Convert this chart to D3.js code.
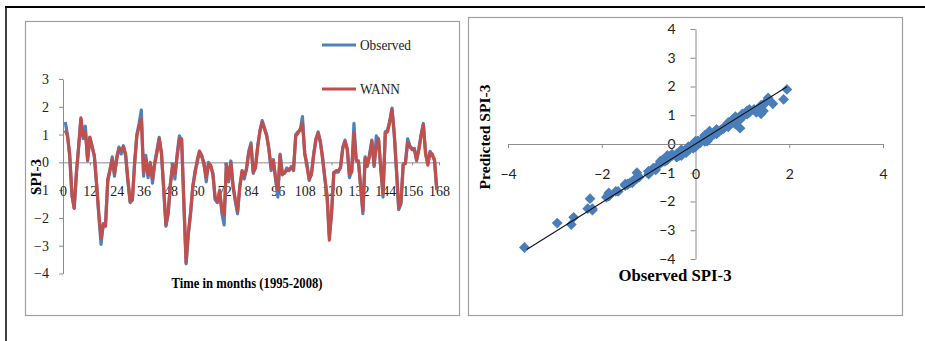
<!DOCTYPE html>
<html><head><meta charset="utf-8">
<script src="https://cdn.jsdelivr.net/npm/d3@7"></script>
<style>
html,body{margin:0;padding:0;background:#fff;}
svg{display:block;}
</style></head>
<body><svg id="c" width="925" height="341"></svg>
<script>
// ---------- DATA ----------
const observed = [
1.45, 1.0, 0.2, -1.2, -1.65, -0.4, 0.6, 1.55, 0.85, 1.3,
0.05, 0.9, 0.6, 0.2, -0.8, -1.9, -2.95, -2.2, -2.2, -0.7,
-0.3, 0.2, -0.5, 0.2, 0.55, 0.3, 0.6, 0.2, -0.7, -1.45,
-1.35, 0.0, 1.0, 1.4, 1.88, -0.5, 0.25, -0.55, -0.05, -0.75,
0.0, 0.45, 0.9, 0.3, -1.0, -2.3, -1.85, -0.8, -0.05, -0.6,
0.3, 0.95, 0.8, -1.5, -3.65, -2.6, -1.85, -0.9, -0.3, 0.0,
0.4, 0.2, 0.0, -0.7, 0.0, -0.15, -0.4, -1.35, -1.45, -1.0,
-1.85, -2.25, -0.05, -0.7, 0.05, -0.9, -1.4, -1.85, -0.85, -0.35,
-0.6, -0.2, 0.4, 0.7, -0.4, -0.15, 0.6, 1.1, 1.5, 1.25,
1.0, 0.5, -0.3, 0.1, -0.65, -1.25, 0.3, -0.4, -0.4, -0.2,
-0.3, -0.15, -0.3, 1.0, 1.1, 1.15, 1.65, 0.3, -0.05, -0.65,
-0.4, 0.3, 0.8, 1.1, 0.7, 0.2, -0.6, -1.25, -2.65, -1.85,
-0.35, -0.35, -0.35, -0.15, 0.55, 0.8, 0.45, -0.55, -0.3, 1.4,
0.05, 0.05, -0.9, -1.85, 0.2, -0.15, 0.3, 0.8, -0.15, 0.95,
0.8, -0.2, -1.25, 1.1, 1.15, 1.5, 1.95, 1.0, -0.3, -1.7,
-1.5, -0.05, -0.05, 0.85, 0.6, 0.45, 0.5, 0.05, 0.5, 1.0,
1.4, 0.3, -0.05, 0.4, 0.25, 0.1, -1.0
];
const wann = [
1.15, 0.95, 0.3, -1.15, -1.65, -0.35, 0.55, 1.6, 0.95, 1.1,
0.1, 0.9, 0.55, 0.25, -0.75, -1.85, -2.75, -2.25, -2.3, -0.6,
-0.25, 0.1, -0.4, 0.1, 0.5, 0.45, 0.55, 0.3, -0.6, -1.4,
-1.35, -0.05, 0.95, 1.3, 1.55, -0.35, 0.1, -0.45, 0.0, -0.6,
-0.05, 0.35, 0.85, 0.35, -0.95, -2.25, -1.8, -0.75, -0.1, -0.4,
0.2, 0.85, 0.85, -1.4, -3.6, -2.55, -1.8, -0.85, -0.4, 0.1,
0.4, 0.25, -0.1, -0.55, -0.05, -0.1, -0.45, -1.3, -1.4, -1.05,
-1.7, -1.9, -0.1, -0.6, 0.0, -0.85, -1.35, -1.75, -0.9, -0.3,
-0.5, -0.25, 0.35, 0.6, -0.35, -0.2, 0.55, 1.15, 1.45, 1.2,
0.95, 0.45, -0.2, 0.05, -0.55, -1.0, 0.25, -0.45, -0.35, -0.3,
-0.25, -0.2, -0.25, 0.95, 1.05, 1.2, 1.4, 0.35, -0.15, -0.6,
-0.45, 0.25, 0.85, 1.05, 0.75, 0.1, -0.55, -1.2, -2.8, -1.8,
-0.4, -0.3, -0.3, -0.2, 0.5, 0.75, 0.5, -0.45, -0.35, 1.05,
0.1, 0.0, -0.85, -1.75, 0.15, -0.1, 0.25, 0.75, -0.1, 0.55,
0.85, -0.25, -1.15, 1.05, 1.1, 1.45, 1.9, 1.05, -0.25, -1.65,
-1.45, -0.1, 0.0, 0.7, 0.55, 0.5, 0.45, 0.1, 0.45, 0.95,
1.35, 0.35, -0.1, 0.35, 0.3, 0.05, -0.95
];
const monthTicks = [0,12,24,36,48,60,72,84,96,108,120,132,144,156,168];
const spiTicksLeft = [-4,-3,-2,-1,0,1,2,3];
const scatterXTicks = [-4,-2,0,2,4];
const scatterYTicks = [-4,-3,-2,-1,0,1,2,3,4];
const seriesNames = ["Observed","WANN"];
const trendSlope = 1.02, trendIntercept = 0.0;

// ---------- DRAW ----------
const svg = d3.select("#c");
const axisColor = "#8c8c8c";
const blue = "#4F81BD", red = "#C0504D";
const serif = "'Liberation Serif','Times New Roman',serif";
const sans = "Lato,'Liberation Sans',sans-serif";

// outer frame
svg.append("line").attr("x1",5).attr("x2",925).attr("y1",7).attr("y2",7).attr("stroke","#000").attr("stroke-width",2);
svg.append("line").attr("x1",6).attr("x2",6).attr("y1",6).attr("y2",341).attr("stroke","#000").attr("stroke-width",1.5);

// panel frames
svg.append("rect").attr("x",25.5).attr("y",21.5).attr("width",434).attr("height",294)
  .attr("fill","#fff").attr("stroke","#a0a0a0").attr("stroke-width",1.2);
svg.append("rect").attr("x",468.5).attr("y",17.5).attr("width",434).attr("height",298)
  .attr("fill","#fff").attr("stroke","#a0a0a0").attr("stroke-width",1.2);

// ---------- LEFT: time series ----------
const xL = d3.scaleLinear().domain([0,168]).range([63,439]);
const yL = d3.scaleLinear().domain([-4,3]).range([273.5,79]);
const gL = svg.append("g");

const yAxisL = d3.axisLeft(yL).tickValues(spiTicksLeft).tickSize(4).tickSizeOuter(0).tickPadding(10).tickFormat(d3.format("d"));
const gyL = gL.append("g").attr("transform",`translate(${xL(0)},0)`).call(yAxisL);
gyL.select(".domain").attr("stroke",axisColor);
gyL.selectAll(".tick line").attr("stroke",axisColor);
gyL.selectAll(".tick text").attr("font-family",serif).attr("font-size",14).attr("fill","#222");

const xAxisL = d3.axisBottom(xL).tickValues(monthTicks).tickSize(3).tickSizeOuter(0).tickPadding(21).tickFormat(d3.format("d"));
const gxL = gL.append("g").attr("transform",`translate(0,${yL(0)})`).call(xAxisL);
gxL.select(".domain").attr("stroke",axisColor);
gxL.selectAll(".tick line").attr("stroke",axisColor);
gxL.selectAll(".tick text").attr("font-family",serif).attr("font-size",14).attr("fill","#222");

const lineL = d3.line().x((d,i)=>xL(i+1)).y(d=>yL(d));
gL.append("path").datum(observed).attr("d",lineL).attr("fill","none").attr("stroke",blue).attr("stroke-width",3.2).attr("stroke-linejoin","round");
gL.append("path").datum(wann).attr("d",lineL).attr("fill","none").attr("stroke",red).attr("stroke-width",3.2).attr("stroke-linejoin","round");

// legend
const legColors = [blue, red];
seriesNames.forEach((n,i)=>{
  const y = 45 + i*44;
  gL.append("line").attr("x1",322).attr("x2",356).attr("y1",y).attr("y2",y).attr("stroke",legColors[i]).attr("stroke-width",3);
  gL.append("text").attr("x",360).attr("y",y+5).attr("font-family",serif).attr("font-size",14).attr("fill","#222")
    .attr("textLength", i===0?51:40).attr("lengthAdjust","spacingAndGlyphs").text(n);
});

gL.append("text").attr("x",247).attr("y",288).attr("text-anchor","middle").attr("font-family",serif)
  .attr("font-weight","bold").attr("font-size",14).attr("textLength",151).attr("lengthAdjust","spacingAndGlyphs")
  .text("Time in months (1995-2008)");
gL.append("text").attr("transform","translate(41,177) rotate(-90)").attr("text-anchor","middle").attr("font-family",serif)
  .attr("font-weight","bold").attr("font-size",15).text("SPI-3");

// ---------- RIGHT: scatter ----------
const xR = d3.scaleLinear().domain([-4,4]).range([508,883]);
const yR = d3.scaleLinear().domain([-4,4]).range([259,29]);
const gR = svg.append("g");

const yAxisR = d3.axisLeft(yR).tickValues(scatterYTicks).tickSize(5).tickSizeOuter(0).tickPadding(15).tickFormat(d3.format("d"));
const gyR = gR.append("g").attr("transform",`translate(${xR(0)},0)`).call(yAxisR);
gyR.select(".domain").attr("stroke",axisColor);
gyR.selectAll(".tick line").attr("stroke",axisColor);
gyR.selectAll(".tick text").attr("font-family",sans).attr("font-size",14).attr("fill","#222");

const xAxisR = d3.axisBottom(xR).tickValues(scatterXTicks).tickSize(4).tickSizeOuter(0).tickPadding(21).tickFormat(d3.format("d"));
const gxR = gR.append("g").attr("transform",`translate(0,${yR(0)})`).call(xAxisR);
gxR.select(".domain").attr("stroke",axisColor);
gxR.selectAll(".tick line").attr("stroke",axisColor);
gxR.selectAll(".tick text").attr("font-family",sans).attr("font-size",14).attr("fill","#222");

const pairs = observed.map((o,i)=>[o, wann[i]]);
const diamond = "M0,-5.4L5.4,0L0,5.4L-5.4,0Z";
gR.append("g").selectAll("path").data(pairs).join("path")
  .attr("d",diamond).attr("transform",d=>`translate(${xR(d[0])},${yR(d[1])})`).attr("fill","#4A7EBB");

const ext = d3.extent(observed);
gR.append("line").attr("x1",xR(ext[0]+0.05)).attr("y1",yR(trendSlope*(ext[0]+0.05)+trendIntercept))
  .attr("x2",xR(ext[1])).attr("y2",yR(trendSlope*ext[1]+trendIntercept)).attr("stroke","#111").attr("stroke-width",1.1);

gR.append("text").attr("x",675).attr("y",281).attr("text-anchor","middle").attr("font-family",serif)
  .attr("font-weight","bold").attr("font-size",16).attr("textLength",113).attr("lengthAdjust","spacingAndGlyphs").text("Observed SPI-3");
gR.append("text").attr("transform","translate(490,137) rotate(-90)").attr("text-anchor","middle").attr("font-family",serif)
  .attr("font-weight","bold").attr("font-size",15.5).attr("textLength",105).attr("lengthAdjust","spacingAndGlyphs").text("Predicted SPI-3");
</script></body></html>
